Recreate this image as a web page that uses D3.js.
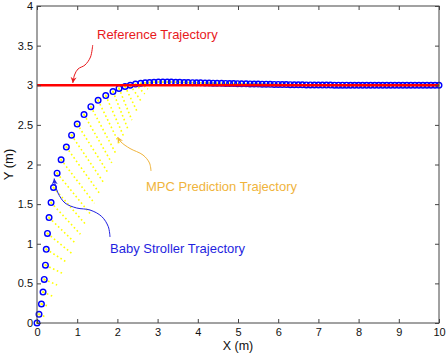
<!DOCTYPE html>
<html>
<head>
<meta charset="utf-8">
<script src="https://cdn.jsdelivr.net/npm/d3@7"></script>
<style>
  html, body { margin: 0; padding: 0; background: #fff; }
  svg { display: block; font-family: "Liberation Sans", Arial, Helvetica, sans-serif; }
</style>
</head>
<body>
<svg id="chart" width="447" height="360"></svg>
<script>
// stroller positions (blue circles)
const strollerX = [0, 0.05, 0.11, 0.15, 0.18, 0.21, 0.23, 0.26, 0.30, 0.35, 0.41, 0.50, 0.60, 0.73, 0.86, 1.00,
  1.17, 1.34, 1.52, 1.71, 1.89, 2.04, 2.19, 2.32, 2.45, 2.58,
  2.69, 2.80, 2.91, 3.02, 3.13, 3.24, 3.34, 3.45, 3.55, 3.66, 3.76, 3.87, 3.97, 4.07, 4.18, 4.28,
  4.38, 4.48, 4.59, 4.69, 4.79, 4.89, 4.99, 5.09,
  5.2, 5.3, 5.4, 5.5, 5.6, 5.7, 5.8, 5.9, 6.0, 6.1, 6.2, 6.3, 6.4, 6.5, 6.6, 6.7, 6.8, 6.9, 7.0,
  7.1, 7.2, 7.3, 7.4, 7.5, 7.6, 7.7, 7.8, 7.9, 8.0, 8.1, 8.2, 8.3, 8.4, 8.5, 8.6, 8.7, 8.8, 8.9,
  9.0, 9.1, 9.2, 9.3, 9.4, 9.5, 9.6, 9.7, 9.8, 9.9, 10.0];
const strollerY = [0, 0.11, 0.24, 0.39, 0.55, 0.73, 0.93, 1.13, 1.33, 1.52, 1.71, 1.89, 2.06, 2.22, 2.37, 2.51,
  2.63, 2.73, 2.81, 2.87, 2.92, 2.96, 2.985, 3.0, 3.015, 3.025,
  3.03, 3.035, 3.038, 3.04, 3.04, 3.04, 3.04, 3.038, 3.037, 3.035, 3.034, 3.032, 3.031, 3.03, 3.028, 3.027,
  3.026, 3.025, 3.024, 3.023, 3.022, 3.021, 3.02, 3.019,
  3.018, 3.017, 3.016, 3.015, 3.014, 3.013, 3.012, 3.011, 3.01, 3.009, 3.008, 3.007, 3.006, 3.006, 3.005, 3.004, 3.004, 3.003, 3.003,
  3.002, 3.002, 3.002, 3.001, 3.001, 3.001, 3.001, 3.0, 3.0, 3.0, 3.0, 3.0, 3.0, 3.0, 3.0, 3.0, 3.0, 3.0, 3.0,
  3.0, 3.0, 3.0, 3.0, 3.0, 3.0, 3.0, 3.0, 3.0, 3.0, 3.0];

// end point of each MPC prediction (steps 1..27), start is the stroller position
const predEndX = [0.20, 0.31, 0.38, 0.50, 0.66, 0.76, 0.86, 0.97, 1.08, 1.20, 1.32, 1.43, 1.55,
  1.66, 1.76, 1.86, 1.96, 2.07, 2.17, 2.26, 2.36, 2.48, 2.59, 2.68, 2.76, 2.82, 2.88];
const predEndY = [0.08, 0.21, 0.34, 0.48, 0.62, 0.76, 0.88, 1.00, 1.12, 1.25, 1.38, 1.51, 1.64,
  1.77, 1.90, 2.02, 2.14, 2.24, 2.34, 2.45, 2.56, 2.68, 2.80, 2.89, 2.95, 2.99, 3.01];

// reference line
const refX = [0, 10];
const refY = [3, 3];

const xTicks = [0, 1, 2, 3, 4, 5, 6, 7, 8, 9, 10];
const yTicks = [0, 0.5, 1, 1.5, 2, 2.5, 3, 3.5, 4];

const svg = d3.select("#chart");
const mLeft = 37, mRight = 439, mTop = 6, mBottom = 323;

const x = d3.scaleLinear().domain([0, 10]).range([mLeft, mRight]);
const y = d3.scaleLinear().domain([0, 4]).range([mBottom, mTop]);

const axisColor = "#444";

// predictions (yellow dotted)
const line = d3.line().x(d => x(d[0])).y(d => y(d[1]));
const preds = predEndX.map((ex, i) => [[strollerX[i + 1], strollerY[i + 1]], [ex, predEndY[i]]]);

svg.append("g")
    .attr("fill", "none")
    .attr("stroke", "#ffff00")
    .attr("stroke-width", 1.6)
    .attr("stroke-dasharray", "1.6 2.6")
    .selectAll("path")
    .data(preds)
    .join("path")
    .attr("d", line);

// prediction start dots at each state
svg.append("g")
    .selectAll("rect")
    .data(strollerX.map((v, i) => [v, strollerY[i]]))
    .join("rect")
    .attr("x", d => x(d[0]) - 0.9)
    .attr("y", d => y(d[1]) - 0.9)
    .attr("width", 1.8)
    .attr("height", 1.8)
    .attr("fill", "#ffff00");

// stroller circles
svg.append("g")
    .selectAll("circle")
    .data(strollerX.map((v, i) => [v, strollerY[i]]))
    .join("circle")
    .attr("cx", d => x(d[0]))
    .attr("cy", d => y(d[1]))
    .attr("r", 2.8)
    .attr("fill", "none")
    .attr("stroke", "#0000ff")
    .attr("stroke-width", 1.4);

// reference trajectory
svg.append("path")
    .datum(refX.map((v, i) => [v, refY[i]]))
    .attr("d", line)
    .attr("fill", "none")
    .attr("stroke", "#ff0000")
    .attr("stroke-width", 2.6);

// axes
function styleAxis(g) {
    g.select(".domain").remove();
    g.selectAll(".tick line").attr("stroke", axisColor);
    g.selectAll(".tick text").attr("fill", "#111").attr("font-size", 11);
}

svg.append("g")
    .attr("transform", `translate(0,${mBottom})`)
    .call(d3.axisBottom(x).tickValues(xTicks).tickFormat(d => String(d)).tickSize(-4).tickSizeOuter(0).tickPadding(5))
    .call(styleAxis);

svg.append("g")
    .attr("transform", `translate(0,${mTop})`)
    .call(d3.axisTop(x).tickValues(xTicks).tickFormat("").tickSize(-4).tickSizeOuter(0))
    .call(styleAxis);

svg.append("g")
    .attr("transform", `translate(${mLeft},0)`)
    .call(d3.axisLeft(y).tickValues(yTicks).tickFormat(d => String(d)).tickSize(-4).tickSizeOuter(0).tickPadding(4))
    .call(styleAxis);

svg.append("g")
    .attr("transform", `translate(${mRight},0)`)
    .call(d3.axisRight(y).tickValues(yTicks).tickFormat("").tickSize(-4).tickSizeOuter(0))
    .call(styleAxis);

svg.append("rect")
    .attr("x", mLeft).attr("y", mTop)
    .attr("width", mRight - mLeft).attr("height", mBottom - mTop)
    .attr("fill", "none")
    .attr("stroke", axisColor)
    .attr("stroke-width", 1);

// axis labels
svg.append("text")
    .attr("x", (mLeft + mRight) / 2)
    .attr("y", 350)
    .attr("text-anchor", "middle")
    .attr("font-size", 12.5)
    .attr("fill", "#111")
    .text("X (m)");

svg.append("text")
    .attr("transform", `translate(12.5,${(mTop + mBottom) / 2}) rotate(-90)`)
    .attr("text-anchor", "middle")
    .attr("font-size", 13)
    .attr("fill", "#111")
    .text("Y (m)");

// annotations
const defs = svg.append("defs");
function marker(id, color) {
    defs.append("marker")
        .attr("id", id)
        .attr("viewBox", "-7 -4 8 8")
        .attr("refX", 0).attr("refY", 0)
        .attr("markerWidth", 8).attr("markerHeight", 8)
        .attr("markerUnits", "userSpaceOnUse")
        .attr("orient", "auto")
        .append("path")
        .attr("d", "M0,0 L-6,-3 L-4,0 L-6,3 Z")
        .attr("fill", color);
}
marker("arRed", "#e8191c");
marker("arOrange", "#f0b43c");
marker("arBlue", "#1f1fe0");

const curve = d3.line().curve(d3.curveCatmullRom);
const notes = [
    { text: "Reference Trajectory", color: "#e8191c", tx: 97, ty: 39, id: "arRed",
      pts: [[92.7, 45], [90.5, 57], [85, 65], [78, 69], [74.5, 75], [72.8, 83]] },
    { text: "MPC Prediction Trajectory", color: "#f0b43c", tx: 146, ty: 191, id: "arOrange",
      pts: [[151, 171], [149.5, 163], [143, 155], [130, 148.5], [121, 142], [117.6, 137]] },
    { text: "Baby Stroller Trajectory", color: "#1f1fe0", tx: 110, ty: 253, id: "arBlue",
      pts: [[110, 237], [108.3, 226.7], [101.7, 216.5], [90, 210], [76.7, 208], [65, 203], [58, 193], [55, 184], [54.2, 178.5]] }
];

notes.forEach(n => {
    svg.append("path")
        .attr("d", curve(n.pts))
        .attr("fill", "none")
        .attr("stroke", n.color)
        .attr("stroke-width", 1)
        .attr("marker-end", `url(#${n.id})`);
    svg.append("text")
        .attr("x", n.tx).attr("y", n.ty)
        .attr("font-size", 13)
        .attr("fill", n.color)
        .text(n.text);
});
</script>
</body>
</html>
